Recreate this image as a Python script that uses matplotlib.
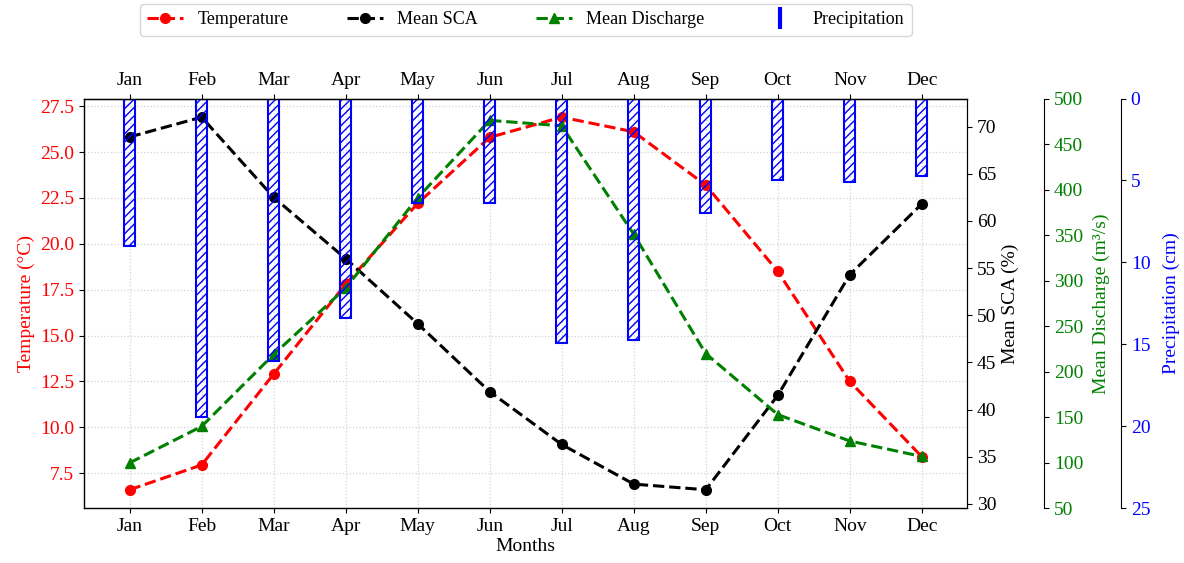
import matplotlib.pyplot as plt
from matplotlib.lines import Line2D
import numpy as np

plt.rcParams["font.family"] = ["Liberation Serif", "DejaVu Serif"]
plt.rcParams["font.size"] = 14

months = ["Jan", "Feb", "Mar", "Apr", "May", "Jun",
          "Jul", "Aug", "Sep", "Oct", "Nov", "Dec"]
temperature = [6.6, 7.95, 12.9, 17.8, 22.2, 25.8, 26.9, 26.1, 23.2, 18.5, 12.5, 8.4]
mean_sca = [68.9, 71.0, 62.5, 56.0, 49.1, 41.9, 36.3, 32.1, 31.5, 41.5, 54.3, 61.8]
mean_discharge = [100, 140, 219, 292, 391, 476, 470, 351, 220, 153, 124, 107]
precipitation = [9.0, 19.4, 16.0, 13.4, 6.4, 6.4, 14.9, 14.7, 7.0, 5.0, 5.1, 4.7]

x = np.arange(len(months))

fig = plt.figure(figsize=(11.84, 5.63), dpi=100)
ax = fig.add_axes([0.071, 0.097, 0.746, 0.728])

ax.plot(x, temperature, "o--", color="red", lw=2.2, ms=7, label="Temperature")
ax.set_ylabel("Temperature (°C)", color="red")
ax.tick_params(axis="y", labelcolor="red")
ax.set_xticks(x)
ax.set_xticklabels(months)
ax.set_xlabel("Months", labelpad=2)
ax.grid(True, linestyle=":", color="lightgrey", lw=0.9)

top = ax.secondary_xaxis("top")
top.set_xticks(x)
top.set_xticklabels(months)

# snow cover
ax2 = ax.twinx()
ax2.plot(x, mean_sca, "o--", color="black", lw=2.2, ms=7, label="Mean SCA")
ax2.set_ylabel("Mean SCA (%)")

# discharge
ax3 = ax.twinx()
ax3.spines["right"].set_position(("axes", 1.087))
ax3.plot(x, mean_discharge, "^--", color="green", lw=2.2, ms=7, label="Mean Discharge")
ax3.set_ylim(50, 500)
ax3.set_yticks(np.arange(50, 501, 50))
ax3.set_ylabel("Mean Discharge (m³/s)", color="green", labelpad=7)
ax3.tick_params(axis="y", labelcolor="green")

# precipitation, inverted
ax4 = ax.twinx()
ax4.spines["right"].set_position(("axes", 1.174))
ax4.bar(x, precipitation, width=0.15, fill=False, edgecolor="blue",
        hatch="////", lw=1.5)
ax4.set_ylim(25, 0)
ax4.set_yticks(np.arange(0, 26, 5))
ax4.set_ylabel("Precipitation (cm)", color="blue", labelpad=9)
ax4.tick_params(axis="y", labelcolor="blue")

handles = [
    Line2D([0], [0], color="red", ls="--", marker="o", lw=2.2, ms=7),
    Line2D([0], [0], color="black", ls="--", marker="o", lw=2.2, ms=7),
    Line2D([0], [0], color="green", ls="--", marker="^", lw=2.2, ms=7),
    Line2D([0], [0], color="blue", ls="None", marker="|", ms=16, mew=3),
]
labels = ["Temperature", "Mean SCA", "Mean Discharge", "Precipitation"]
ax.legend(handles, labels, loc="upper center", bbox_to_anchor=(0.5, 1.252),
          ncol=4, fontsize=13, columnspacing=3.2, handlelength=2, frameon=True)

fig.savefig("out.png", dpi=100)
